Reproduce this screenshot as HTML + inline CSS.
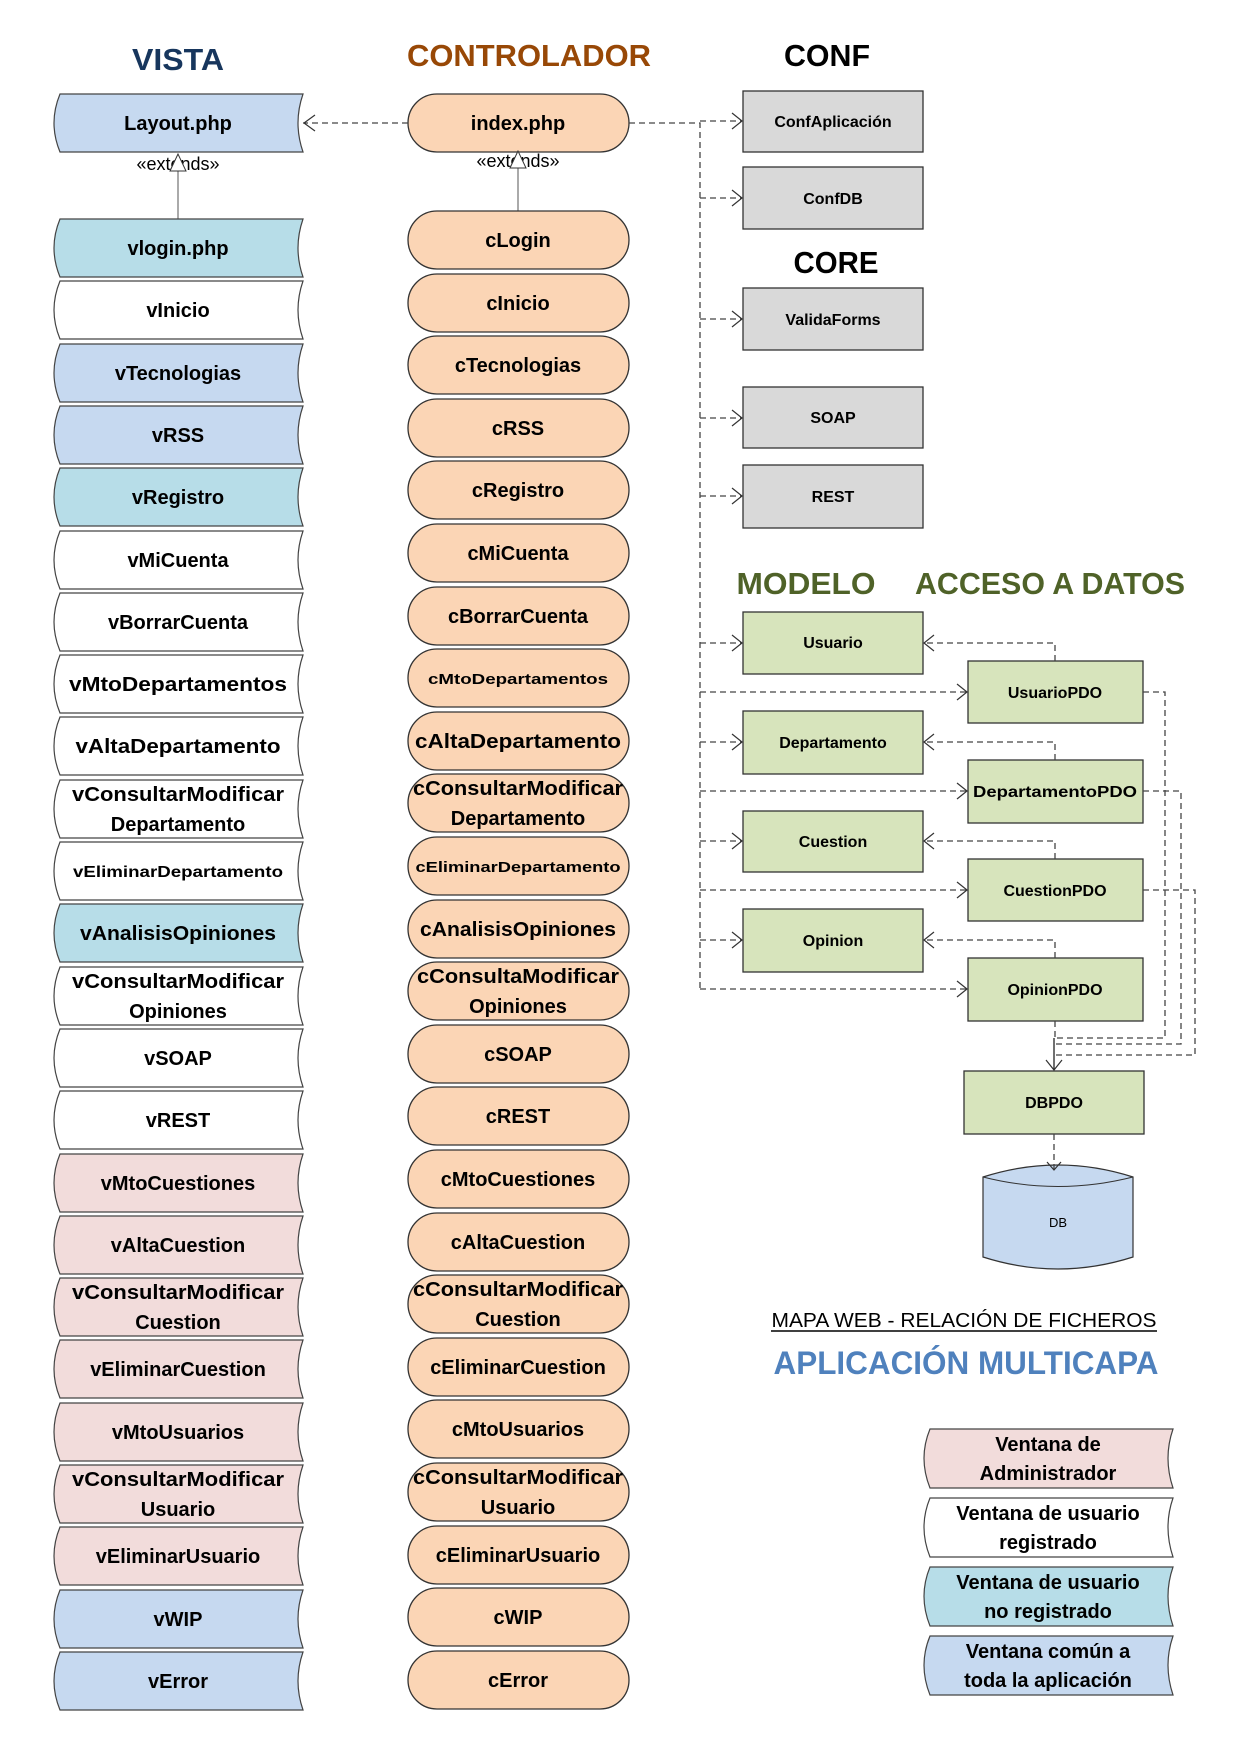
<!DOCTYPE html>
<html><head><meta charset="utf-8"><style>
html,body{margin:0;padding:0;background:#fff}
svg{display:block}
text{font-family:"Liberation Sans",sans-serif;font-weight:bold;fill:#000;text-anchor:middle}
.v{stroke:#444;stroke-width:1.2}
.b{stroke:#333;stroke-width:1.3}
.d{fill:none;stroke:#444;stroke-width:1.3;stroke-dasharray:6,4}
.a{fill:none;stroke:#333;stroke-width:1.2}
.t{font-size:20px}
.s{font-size:16px}
.g{font-size:16px}
</style></head><body>
<svg width="1241" height="1755" viewBox="0 0 1241 1755" xmlns="http://www.w3.org/2000/svg">
<!-- headings -->
<text x="178" y="70" style="font-size:31px;fill:#17365d" textLength="92" lengthAdjust="spacingAndGlyphs">VISTA</text>
<text x="529" y="66" style="font-size:31px;fill:#984806" textLength="244" lengthAdjust="spacingAndGlyphs">CONTROLADOR</text>
<text x="827" y="66" style="font-size:31px" textLength="86" lengthAdjust="spacingAndGlyphs">CONF</text>
<text x="836" y="273" style="font-size:31px" textLength="85" lengthAdjust="spacingAndGlyphs">CORE</text>
<text x="806" y="594" style="font-size:31px;fill:#4f6228" textLength="139" lengthAdjust="spacingAndGlyphs">MODELO</text>
<text x="1050" y="594" style="font-size:31px;fill:#4f6228" textLength="270" lengthAdjust="spacingAndGlyphs">ACCESO A DATOS</text>
<text x="964" y="1327" style="font-size:20px;font-weight:normal" textLength="385" lengthAdjust="spacingAndGlyphs">MAPA WEB - RELACIÓN DE FICHEROS</text>
<line x1="771" y1="1331" x2="1157" y2="1331" stroke="#000" stroke-width="1.5"/>
<text x="966" y="1374" style="font-size:32px;fill:#4f81bd" textLength="385" lengthAdjust="spacingAndGlyphs">APLICACIÓN MULTICAPA</text>

<!-- Layout -->
<path class="v" fill="#c6d9f0" d="M60,94 L303,94 Q293,123 303,152 L60,152 Q48,123 60,94 Z"/>
<text class="t" x="178" y="130">Layout.php</text>
<!-- index -->
<rect class="b" x="408" y="94" width="221" height="58" rx="29" fill="#fbd5b5"/>
<text class="t" x="518" y="130">index.php</text>
<!-- extends -->
<text x="178" y="170" style="font-size:18px;font-weight:normal">«extends»</text>
<text x="518" y="167" style="font-size:18px;font-weight:normal">«extends»</text>
<line x1="178" y1="170" x2="178" y2="219" stroke="#555"/>
<polygon points="178,154 170,171 186,171" fill="#fff" stroke="#333"/>
<line x1="518" y1="167" x2="518" y2="211" stroke="#555"/>
<polygon points="518,151 510,168 526,168" fill="#fff" stroke="#333"/>

<!-- Vista rows -->
<g>
<path class="v" fill="#b7dde8" d="M60,219 L303,219 Q293,248 303,277 L60,277 Q48,248 60,219 Z"/><text class="t" x="178" y="255">vlogin.php</text>
<path class="v" fill="#fff" d="M60,281 L303,281 Q293,310 303,339 L60,339 Q48,310 60,281 Z"/><text class="t" x="178" y="317">vInicio</text>
<path class="v" fill="#c6d9f0" d="M60,344 L303,344 Q293,373 303,402 L60,402 Q48,373 60,344 Z"/><text class="t" x="178" y="380">vTecnologias</text>
<path class="v" fill="#c6d9f0" d="M60,406 L303,406 Q293,435 303,464 L60,464 Q48,435 60,406 Z"/><text class="t" x="178" y="442">vRSS</text>
<path class="v" fill="#b7dde8" d="M60,468 L303,468 Q293,497 303,526 L60,526 Q48,497 60,468 Z"/><text class="t" x="178" y="504">vRegistro</text>
<path class="v" fill="#fff" d="M60,531 L303,531 Q293,560 303,589 L60,589 Q48,560 60,531 Z"/><text class="t" x="178" y="567">vMiCuenta</text>
<path class="v" fill="#fff" d="M60,593 L303,593 Q293,622 303,651 L60,651 Q48,622 60,593 Z"/><text class="t" x="178" y="629">vBorrarCuenta</text>
<path class="v" fill="#fff" d="M60,655 L303,655 Q293,684 303,713 L60,713 Q48,684 60,655 Z"/><text class="t" x="178" y="691" textLength="218" lengthAdjust="spacingAndGlyphs">vMtoDepartamentos</text>
<path class="v" fill="#fff" d="M60,717 L303,717 Q293,746 303,775 L60,775 Q48,746 60,717 Z"/><text class="t" x="178" y="753" textLength="205" lengthAdjust="spacingAndGlyphs">vAltaDepartamento</text>
<path class="v" fill="#fff" d="M60,780 L303,780 Q293,809 303,838 L60,838 Q48,809 60,780 Z"/><text class="t" x="178" y="801" textLength="212" lengthAdjust="spacingAndGlyphs">vConsultarModificar</text><text class="t" x="178" y="831">Departamento</text>
<path class="v" fill="#fff" d="M60,842 L303,842 Q293,871 303,900 L60,900 Q48,871 60,842 Z"/><text class="s" x="178" y="877" textLength="210" lengthAdjust="spacingAndGlyphs">vEliminarDepartamento</text>
<path class="v" fill="#b7dde8" d="M60,904 L303,904 Q293,933 303,962 L60,962 Q48,933 60,904 Z"/><text class="t" x="178" y="940" textLength="196" lengthAdjust="spacingAndGlyphs">vAnalisisOpiniones</text>
<path class="v" fill="#fff" d="M60,967 L303,967 Q293,996 303,1025 L60,1025 Q48,996 60,967 Z"/><text class="t" x="178" y="988" textLength="212" lengthAdjust="spacingAndGlyphs">vConsultarModificar</text><text class="t" x="178" y="1018">Opiniones</text>
<path class="v" fill="#fff" d="M60,1029 L303,1029 Q293,1058 303,1087 L60,1087 Q48,1058 60,1029 Z"/><text class="t" x="178" y="1065">vSOAP</text>
<path class="v" fill="#fff" d="M60,1091 L303,1091 Q293,1120 303,1149 L60,1149 Q48,1120 60,1091 Z"/><text class="t" x="178" y="1127">vREST</text>
<path class="v" fill="#f2dcdb" d="M60,1154 L303,1154 Q293,1183 303,1212 L60,1212 Q48,1183 60,1154 Z"/><text class="t" x="178" y="1190">vMtoCuestiones</text>
<path class="v" fill="#f2dcdb" d="M60,1216 L303,1216 Q293,1245 303,1274 L60,1274 Q48,1245 60,1216 Z"/><text class="t" x="178" y="1252">vAltaCuestion</text>
<path class="v" fill="#f2dcdb" d="M60,1278 L303,1278 Q293,1307 303,1336 L60,1336 Q48,1307 60,1278 Z"/><text class="t" x="178" y="1299" textLength="212" lengthAdjust="spacingAndGlyphs">vConsultarModificar</text><text class="t" x="178" y="1329">Cuestion</text>
<path class="v" fill="#f2dcdb" d="M60,1340 L303,1340 Q293,1369 303,1398 L60,1398 Q48,1369 60,1340 Z"/><text class="t" x="178" y="1376">vEliminarCuestion</text>
<path class="v" fill="#f2dcdb" d="M60,1403 L303,1403 Q293,1432 303,1461 L60,1461 Q48,1432 60,1403 Z"/><text class="t" x="178" y="1439">vMtoUsuarios</text>
<path class="v" fill="#f2dcdb" d="M60,1465 L303,1465 Q293,1494 303,1523 L60,1523 Q48,1494 60,1465 Z"/><text class="t" x="178" y="1486" textLength="212" lengthAdjust="spacingAndGlyphs">vConsultarModificar</text><text class="t" x="178" y="1516">Usuario</text>
<path class="v" fill="#f2dcdb" d="M60,1527 L303,1527 Q293,1556 303,1585 L60,1585 Q48,1556 60,1527 Z"/><text class="t" x="178" y="1563">vEliminarUsuario</text>
<path class="v" fill="#c6d9f0" d="M60,1590 L303,1590 Q293,1619 303,1648 L60,1648 Q48,1619 60,1590 Z"/><text class="t" x="178" y="1626">vWIP</text>
<path class="v" fill="#c6d9f0" d="M60,1652 L303,1652 Q293,1681 303,1710 L60,1710 Q48,1681 60,1652 Z"/><text class="t" x="178" y="1688">vError</text>
</g>

<!-- Controller rows -->
<g fill="#fbd5b5">
<rect class="b" x="408" y="211" width="221" height="58" rx="29"/><text class="t" x="518" y="247">cLogin</text>
<rect class="b" x="408" y="274" width="221" height="58" rx="29"/><text class="t" x="518" y="310">cInicio</text>
<rect class="b" x="408" y="336" width="221" height="58" rx="29"/><text class="t" x="518" y="372">cTecnologias</text>
<rect class="b" x="408" y="399" width="221" height="58" rx="29"/><text class="t" x="518" y="435">cRSS</text>
<rect class="b" x="408" y="461" width="221" height="58" rx="29"/><text class="t" x="518" y="497">cRegistro</text>
<rect class="b" x="408" y="524" width="221" height="58" rx="29"/><text class="t" x="518" y="560">cMiCuenta</text>
<rect class="b" x="408" y="587" width="221" height="58" rx="29"/><text class="t" x="518" y="623">cBorrarCuenta</text>
<rect class="b" x="408" y="649" width="221" height="58" rx="29"/><text class="g" x="518" y="684" style="font-size:15px" textLength="180" lengthAdjust="spacingAndGlyphs">cMtoDepartamentos</text>
<rect class="b" x="408" y="712" width="221" height="58" rx="29"/><text class="t" x="518" y="748" textLength="206" lengthAdjust="spacingAndGlyphs">cAltaDepartamento</text>
<rect class="b" x="408" y="774" width="221" height="58" rx="29"/><text class="t" x="518" y="795" textLength="210" lengthAdjust="spacingAndGlyphs">cConsultarModificar</text><text class="t" x="518" y="825">Departamento</text>
<rect class="b" x="408" y="837" width="221" height="58" rx="29"/><text class="g" x="518" y="872" style="font-size:15px" textLength="205" lengthAdjust="spacingAndGlyphs">cEliminarDepartamento</text>
<rect class="b" x="408" y="900" width="221" height="58" rx="29"/><text class="t" x="518" y="936" textLength="196" lengthAdjust="spacingAndGlyphs">cAnalisisOpiniones</text>
<rect class="b" x="408" y="962" width="221" height="58" rx="29"/><text class="t" x="518" y="983" textLength="202" lengthAdjust="spacingAndGlyphs">cConsultaModificar</text><text class="t" x="518" y="1013">Opiniones</text>
<rect class="b" x="408" y="1025" width="221" height="58" rx="29"/><text class="t" x="518" y="1061">cSOAP</text>
<rect class="b" x="408" y="1087" width="221" height="58" rx="29"/><text class="t" x="518" y="1123">cREST</text>
<rect class="b" x="408" y="1150" width="221" height="58" rx="29"/><text class="t" x="518" y="1186">cMtoCuestiones</text>
<rect class="b" x="408" y="1213" width="221" height="58" rx="29"/><text class="t" x="518" y="1249">cAltaCuestion</text>
<rect class="b" x="408" y="1275" width="221" height="58" rx="29"/><text class="t" x="518" y="1296" textLength="210" lengthAdjust="spacingAndGlyphs">cConsultarModificar</text><text class="t" x="518" y="1326">Cuestion</text>
<rect class="b" x="408" y="1338" width="221" height="58" rx="29"/><text class="t" x="518" y="1374">cEliminarCuestion</text>
<rect class="b" x="408" y="1400" width="221" height="58" rx="29"/><text class="t" x="518" y="1436">cMtoUsuarios</text>
<rect class="b" x="408" y="1463" width="221" height="58" rx="29"/><text class="t" x="518" y="1484" textLength="210" lengthAdjust="spacingAndGlyphs">cConsultarModificar</text><text class="t" x="518" y="1514">Usuario</text>
<rect class="b" x="408" y="1526" width="221" height="58" rx="29"/><text class="t" x="518" y="1562">cEliminarUsuario</text>
<rect class="b" x="408" y="1588" width="221" height="58" rx="29"/><text class="t" x="518" y="1624">cWIP</text>
<rect class="b" x="408" y="1651" width="221" height="58" rx="29"/><text class="t" x="518" y="1687">cError</text>
</g>

<!-- conf / core boxes -->
<g fill="#d9d9d9">
<rect class="b" x="743" y="91" width="180" height="61"/><text class="g" x="833" y="127">ConfAplicación</text>
<rect class="b" x="743" y="167" width="180" height="62"/><text class="g" x="833" y="204">ConfDB</text>
<rect class="b" x="743" y="288" width="180" height="62"/><text class="g" x="833" y="325">ValidaForms</text>
<rect class="b" x="743" y="387" width="180" height="61"/><text class="g" x="833" y="423">SOAP</text>
<rect class="b" x="743" y="465" width="180" height="63"/><text class="g" x="833" y="502">REST</text>
</g>
<!-- model / pdo -->
<g fill="#d7e4bc">
<rect class="b" x="743" y="612" width="180" height="62"/><text class="g" x="833" y="648">Usuario</text>
<rect class="b" x="968" y="661" width="175" height="62"/><text class="g" x="1055" y="698">UsuarioPDO</text>
<rect class="b" x="743" y="711" width="180" height="63"/><text class="g" x="833" y="748">Departamento</text>
<rect class="b" x="968" y="760" width="175" height="63"/><text class="g" x="1055" y="797" textLength="164" lengthAdjust="spacingAndGlyphs">DepartamentoPDO</text>
<rect class="b" x="743" y="811" width="180" height="61"/><text class="g" x="833" y="847">Cuestion</text>
<rect class="b" x="968" y="859" width="175" height="62"/><text class="g" x="1055" y="896">CuestionPDO</text>
<rect class="b" x="743" y="909" width="180" height="63"/><text class="g" x="833" y="946">Opinion</text>
<rect class="b" x="968" y="958" width="175" height="63"/><text class="g" x="1055" y="995">OpinionPDO</text>
<rect class="b" x="964" y="1071" width="180" height="63"/><text class="g" x="1054" y="1108">DBPDO</text>
</g>
<!-- DB cylinder -->
<path d="M983,1177 Q1058,1153 1133,1177 L1133,1257 Q1058,1281 983,1257 Z" fill="#c6d9f0" stroke="#333" stroke-width="1.2"/>
<path d="M983,1177 Q1058,1196 1133,1177" fill="none" stroke="#333" stroke-width="1"/>
<text x="1058" y="1227" style="font-size:13px;font-weight:normal">DB</text>

<!-- connectors -->
<path class="d" d="M408,123 L303,123"/>
<polyline class="a" points="315,115 304,123 315,131"/>
<path class="d" d="M629,123 L700,123 L700,990"/>
<path class="d" d="M700,121 L742,121"/>
<g class="d">
<path d="M700,198 L742,198"/><path d="M700,319 L742,319"/><path d="M700,418 L742,418"/><path d="M700,496 L742,496"/>
<path d="M700,643 L742,643"/><path d="M700,692 L967,692"/><path d="M700,742 L742,742"/><path d="M700,791 L967,791"/>
<path d="M700,841 L742,841"/><path d="M700,890 L967,890"/><path d="M700,940 L742,940"/><path d="M700,989 L967,989"/>
</g>
<g class="a">
<polyline points="732,113 742,121 732,129"/><polyline points="732,190 742,198 732,206"/><polyline points="732,311 742,319 732,327"/>
<polyline points="732,410 742,418 732,426"/><polyline points="732,488 742,496 732,504"/>
<polyline points="732,635 742,643 732,651"/><polyline points="957,684 967,692 957,700"/>
<polyline points="732,734 742,742 732,750"/><polyline points="957,783 967,791 957,799"/>
<polyline points="732,833 742,841 732,849"/><polyline points="957,882 967,890 957,898"/>
<polyline points="732,932 742,940 732,948"/><polyline points="957,981 967,989 957,997"/>
</g>
<!-- PDO -> model -->
<g class="d">
<path d="M1055,661 L1055,643 L924,643"/><path d="M1055,760 L1055,742 L924,742"/>
<path d="M1055,859 L1055,841 L924,841"/><path d="M1055,958 L1055,940 L924,940"/>
</g>
<g class="a">
<polyline points="934,635 924,643 934,651"/><polyline points="934,734 924,742 934,750"/>
<polyline points="934,833 924,841 934,849"/><polyline points="934,932 924,940 934,948"/>
</g>
<!-- PDO -> DBPDO -->
<g class="d">
<path d="M1143,692 L1165,692 L1165,1038 L1054,1038"/>
<path d="M1143,791 L1181,791 L1181,1044 L1054,1044"/>
<path d="M1143,890 L1195,890 L1195,1055 L1054,1055"/>
<path d="M1055,1021 L1055,1040"/>
</g>
<line x1="1054" y1="1038" x2="1054" y2="1070" stroke="#222" stroke-width="1.3"/>
<polyline class="a" points="1046,1060 1054,1070 1062,1060"/>
<path class="d" d="M1054,1134 L1054,1170"/>
<polyline class="a" points="1047,1162 1054,1170 1061,1162"/>

<!-- legend -->
<path class="v" fill="#f2dcdb" d="M930,1429 L1173,1429 Q1163,1458 1173,1488 L930,1488 Q918,1458 930,1429 Z"/>
<text class="t" x="1048" y="1451">Ventana de</text><text class="t" x="1048" y="1480">Administrador</text>
<path class="v" fill="#fff" d="M930,1498 L1173,1498 Q1163,1527 1173,1557 L930,1557 Q918,1527 930,1498 Z"/>
<text class="t" x="1048" y="1520">Ventana de usuario</text><text class="t" x="1048" y="1549">registrado</text>
<path class="v" fill="#b7dde8" d="M930,1567 L1173,1567 Q1163,1596 1173,1626 L930,1626 Q918,1596 930,1567 Z"/>
<text class="t" x="1048" y="1589">Ventana de usuario</text><text class="t" x="1048" y="1618">no registrado</text>
<path class="v" fill="#c6d9f0" d="M930,1636 L1173,1636 Q1163,1665 1173,1695 L930,1695 Q918,1665 930,1636 Z"/>
<text class="t" x="1048" y="1658">Ventana común a</text><text class="t" x="1048" y="1687">toda la aplicación</text>
</svg>
</body></html>
